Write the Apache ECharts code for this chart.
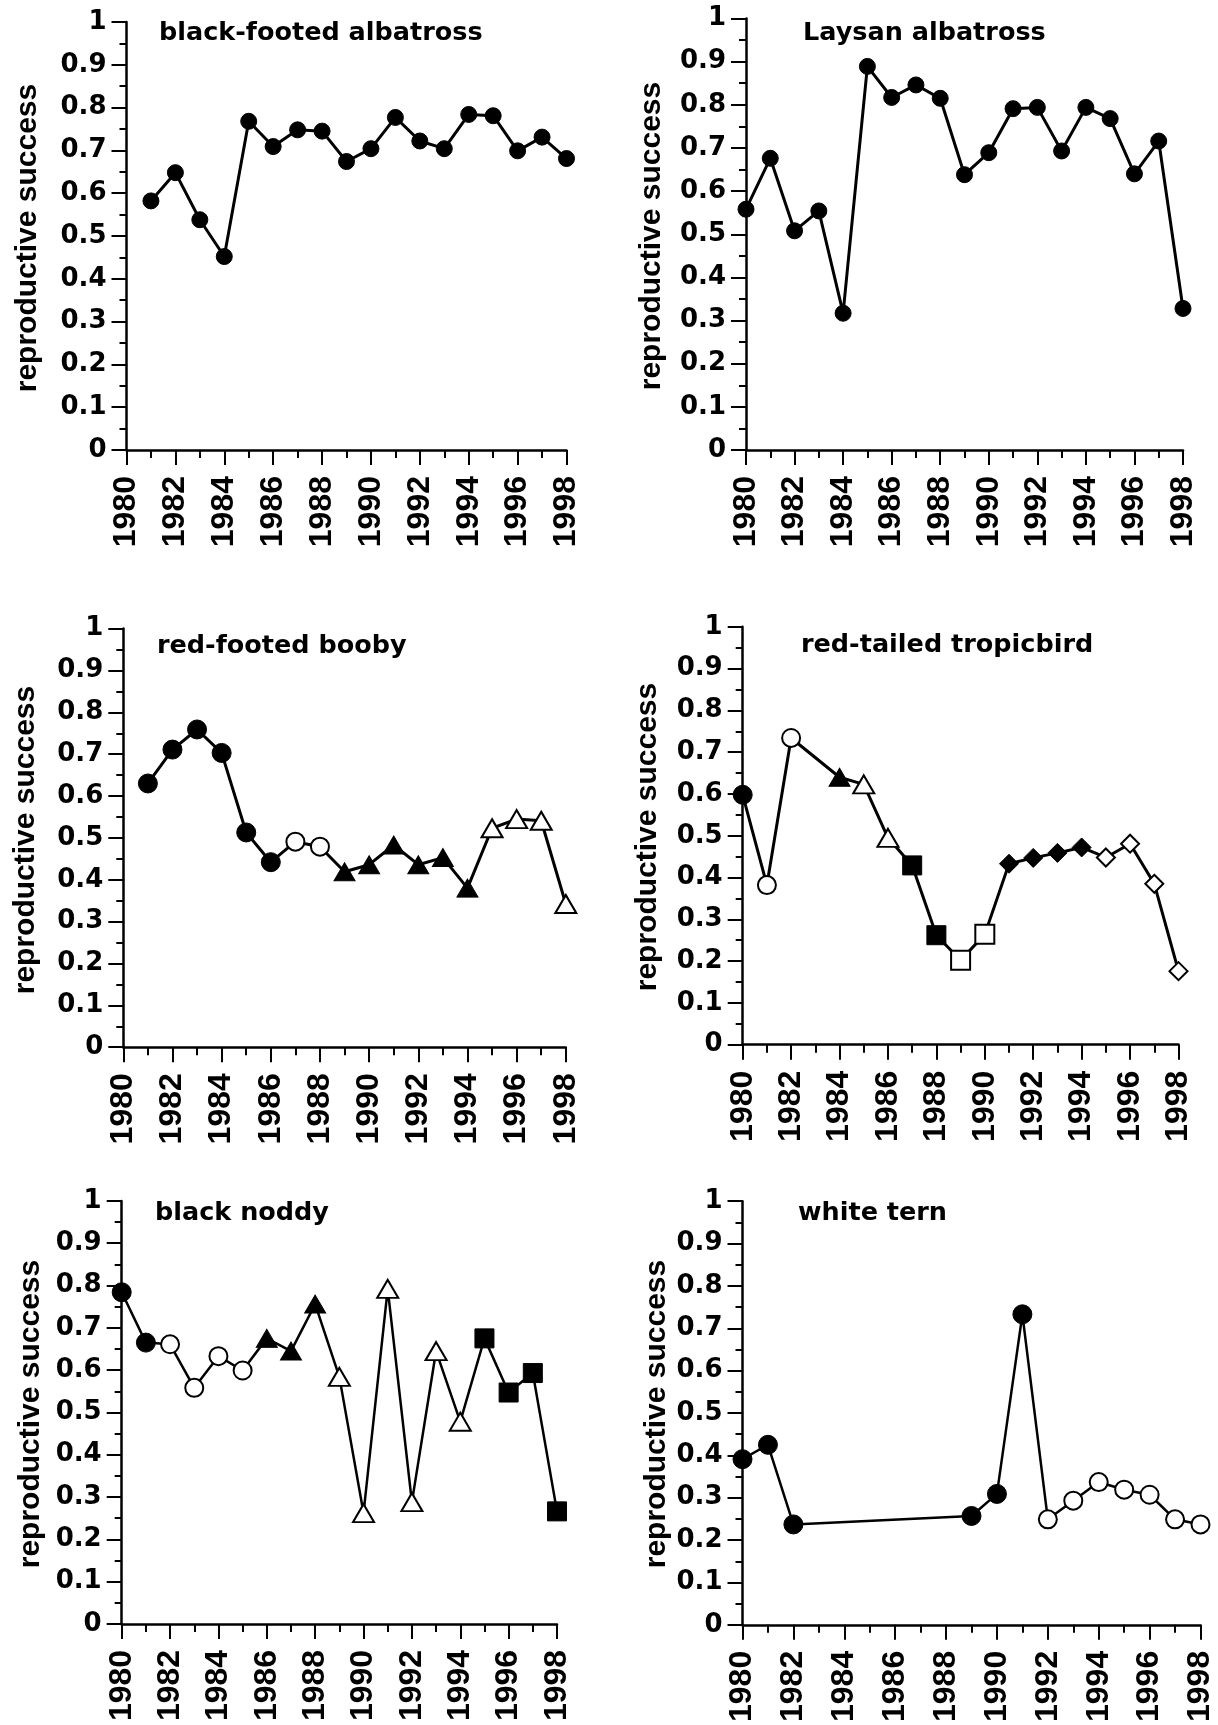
<!DOCTYPE html>
<html>
<head>
<meta charset="utf-8">
<script src="https://cdn.jsdelivr.net/npm/echarts@6/dist/echarts.min.js"></script>
<style>
  html, body { margin: 0; padding: 0; background: #fff; }
  #chart { width: 1218px; height: 1725px; }
</style>
</head>
<body>
<div id="chart"></div>
<script>
// reproductive success per species
const yTicks = [0, 0.1, 0.2, 0.3, 0.4, 0.5, 0.6, 0.7, 0.8, 0.9, 1];
const yearTicks = [1980, 1982, 1984, 1986, 1988, 1990, 1992, 1994, 1996, 1998];

const bfalYears = [1981, 1982, 1983, 1984, 1985, 1986, 1987, 1988, 1989, 1990, 1991, 1992, 1993, 1994, 1995, 1996, 1997, 1998];
const bfalValues = [0.582, 0.648, 0.538, 0.452, 0.768, 0.709, 0.748, 0.745, 0.674, 0.704, 0.777, 0.722, 0.704, 0.784, 0.781, 0.699, 0.731, 0.681];
const bfalPeriod = [1, 1, 1, 1, 1, 1, 1, 1, 1, 1, 1, 1, 1, 1, 1, 1, 1, 1];

const layaYears = [1980, 1981, 1982, 1983, 1984, 1985, 1986, 1987, 1988, 1989, 1990, 1991, 1992, 1993, 1994, 1995, 1996, 1997, 1998];
const layaValues = [0.558, 0.676, 0.508, 0.554, 0.317, 0.889, 0.817, 0.846, 0.815, 0.638, 0.689, 0.791, 0.794, 0.693, 0.794, 0.768, 0.640, 0.716, 0.328];
const layaPeriod = [1, 1, 1, 1, 1, 1, 1, 1, 1, 1, 1, 1, 1, 1, 1, 1, 1, 1, 1];

const rfboYears = [1981, 1982, 1983, 1984, 1985, 1986, 1987, 1988, 1989, 1990, 1991, 1992, 1993, 1994, 1995, 1996, 1997, 1998];
const rfboValues = [0.630, 0.711, 0.759, 0.703, 0.513, 0.442, 0.491, 0.479, 0.419, 0.436, 0.483, 0.436, 0.453, 0.380, 0.523, 0.545, 0.541, 0.342];
const rfboPeriod = [1, 1, 1, 1, 1, 1, 2, 2, 3, 3, 3, 3, 3, 3, 4, 4, 4, 4];

const rttrYears = [1980, 1981, 1982, 1984, 1985, 1986, 1987, 1988, 1989, 1990, 1991, 1992, 1993, 1994, 1995, 1996, 1997, 1998];
const rttrValues = [0.598, 0.382, 0.734, 0.640, 0.623, 0.495, 0.429, 0.262, 0.202, 0.264, 0.433, 0.447, 0.459, 0.472, 0.448, 0.481, 0.385, 0.176];
const rttrPeriod = [1, 2, 2, 3, 4, 4, 5, 5, 6, 6, 7, 7, 7, 7, 8, 8, 8, 8];

const bknoYears = [1980, 1981, 1982, 1983, 1984, 1985, 1986, 1987, 1988, 1989, 1990, 1991, 1992, 1993, 1994, 1995, 1996, 1997, 1998];
const bknoValues = [0.784, 0.665, 0.661, 0.558, 0.633, 0.599, 0.675, 0.645, 0.756, 0.584, 0.262, 0.792, 0.288, 0.645, 0.478, 0.675, 0.547, 0.593, 0.266];
const bknoPeriod = [1, 1, 2, 2, 2, 2, 3, 3, 3, 4, 4, 4, 4, 4, 4, 5, 5, 5, 5];

const whteYears = [1980, 1981, 1982, 1989, 1990, 1991, 1992, 1993, 1994, 1995, 1996, 1997, 1998];
const whteValues = [0.391, 0.425, 0.237, 0.257, 0.309, 0.733, 0.249, 0.293, 0.337, 0.319, 0.307, 0.249, 0.237];
const whtePeriod = [1, 1, 1, 1, 1, 1, 2, 2, 2, 2, 2, 2, 2];

// marker look for each period
const marks = {
    dot: { symbol: 'circle', size: 19, fill: '#000' },
    ring: { symbol: 'circle', size: 18, fill: '#fff' },
    tri: { symbol: 'triangle', size: [21, 18], fill: '#000' },
    triOpen: { symbol: 'triangle', size: [21, 18], fill: '#fff' },
    sq: { symbol: 'rect', size: 19, fill: '#000' },
    sqOpen: { symbol: 'rect', size: 19, fill: '#fff' },
    dia: { symbol: 'diamond', size: 19, fill: '#000' },
    diaOpen: { symbol: 'diamond', size: 18, fill: '#fff' },
    dotSmall: { symbol: 'circle', size: 16, fill: '#000' }
};

const panels = [
    { name: 'black-footed albatross', years: bfalYears, values: bfalValues, period: bfalPeriod, kinds: ['dotSmall'],
      grid: { left: 126.5, top: 22, width: 440, height: 428 }, title: [159, 33.4], yname: [28, 238] },
    { name: 'Laysan albatross', years: layaYears, values: layaValues, period: layaPeriod, kinds: ['dotSmall'],
      grid: { left: 746, top: 18.5, width: 437, height: 431.5 }, title: [803, 33.2], yname: [652, 236] },
    { name: 'red-footed booby', years: rfboYears, values: rfboValues, period: rfboPeriod, kinds: ['dot', 'ring', 'tri', 'triOpen'],
      grid: { left: 123.3, top: 628.6, width: 442.5, height: 418.6 }, title: [157, 646], yname: [26, 840] },
    { name: 'red-tailed tropicbird', years: rttrYears, values: rttrValues, period: rttrPeriod, kinds: ['dot', 'ring', 'tri', 'triOpen', 'sq', 'sqOpen', 'dia', 'diaOpen'],
      grid: { left: 742.7, top: 626.8, width: 435.8, height: 417.9 }, title: [801, 645.4], yname: [648, 837] },
    { name: 'black noddy', years: bknoYears, values: bknoValues, period: bknoPeriod, kinds: ['dot', 'ring', 'tri', 'triOpen', 'sq'],
      grid: { left: 121.7, top: 1200.9, width: 435.3, height: 423 }, title: [155, 1213], yname: [31, 1414] },
    { name: 'white tern', years: whteYears, values: whteValues, period: whtePeriod, kinds: ['dot', 'ring'],
      grid: { left: 742.5, top: 1201.2, width: 458, height: 430.8 }, title: [798, 1213.8], yname: [657, 1414] }
];

const black = '#000';
const grids = [], xAxes = [], yAxes = [], series = [], graphics = [];

panels.forEach(function (p, i) {
    grids.push(Object.assign({ containLabel: false }, p.grid));

    xAxes.push({
        gridIndex: i, type: 'value',
        min: yearTicks[0], max: yearTicks[yearTicks.length - 1], interval: 2,
        axisLine: { show: true, onZero: false, lineStyle: { color: black, width: 2.5 } },
        axisTick: { show: true, length: 15, lineStyle: { color: black, width: 2 } },
        minorTick: { show: true, splitNumber: 2, length: 8, lineStyle: { color: black, width: 2 } },
        splitLine: { show: false },
        axisLabel: {
            rotate: 90, margin: 26, color: black,
            fontFamily: '"Liberation Sans", Arial, sans-serif', fontWeight: 'bold', fontSize: 32,
            formatter: function (v) { return String(v); }
        }
    });

    yAxes.push({
        gridIndex: i, type: 'value',
        min: yTicks[0], max: yTicks[yTicks.length - 1], interval: 0.1,
        axisLine: { show: true, lineStyle: { color: black, width: 2.5 } },
        axisTick: { show: true, length: 15, lineStyle: { color: black, width: 2 } },
        minorTick: { show: true, splitNumber: 2, length: 7, lineStyle: { color: black, width: 2 } },
        splitLine: { show: false },
        axisLabel: {
            margin: 20, color: black,
            fontFamily: '"DejaVu Sans", sans-serif', fontWeight: 'bold', fontSize: 26
        }
    });

    const data = p.years.map(function (yr, k) {
        const m = marks[p.kinds[p.period[k] - 1]];
        return {
            value: [yr, p.values[k]],
            symbol: m.symbol,
            symbolSize: m.size,
            itemStyle: { color: m.fill, borderColor: black, borderWidth: m.fill === '#fff' ? 2 : 1 }
        };
    });

    series.push({
        type: 'line', xAxisIndex: i, yAxisIndex: i,
        data: data,
        showAllSymbol: true,
        lineStyle: { color: black, width: (i < 4 ? 3 : 2.5) },
        emphasis: { disabled: true },
        animation: false
    });

    graphics.push({
        type: 'text', x: p.title[0], y: p.title[1],
        style: {
            text: p.name, fill: black, align: 'left', verticalAlign: 'middle',
            fontFamily: '"DejaVu Sans", sans-serif', fontWeight: 'bold', fontSize: 25.5
        }
    });
    graphics.push({
        type: 'text', x: p.yname[0], y: p.yname[1], rotation: Math.PI / 2,
        style: {
            text: 'reproductive success', fill: black, align: 'center', verticalAlign: 'middle',
            fontFamily: '"Liberation Sans", Arial, sans-serif', fontWeight: 'bold', fontSize: 30
        }
    });
});

const myChart = echarts.init(document.getElementById('chart'));
myChart.setOption({
    backgroundColor: '#fff',
    animation: false,
    grid: grids,
    xAxis: xAxes,
    yAxis: yAxes,
    series: series,
    graphic: graphics
});
</script>
</body>
</html>
